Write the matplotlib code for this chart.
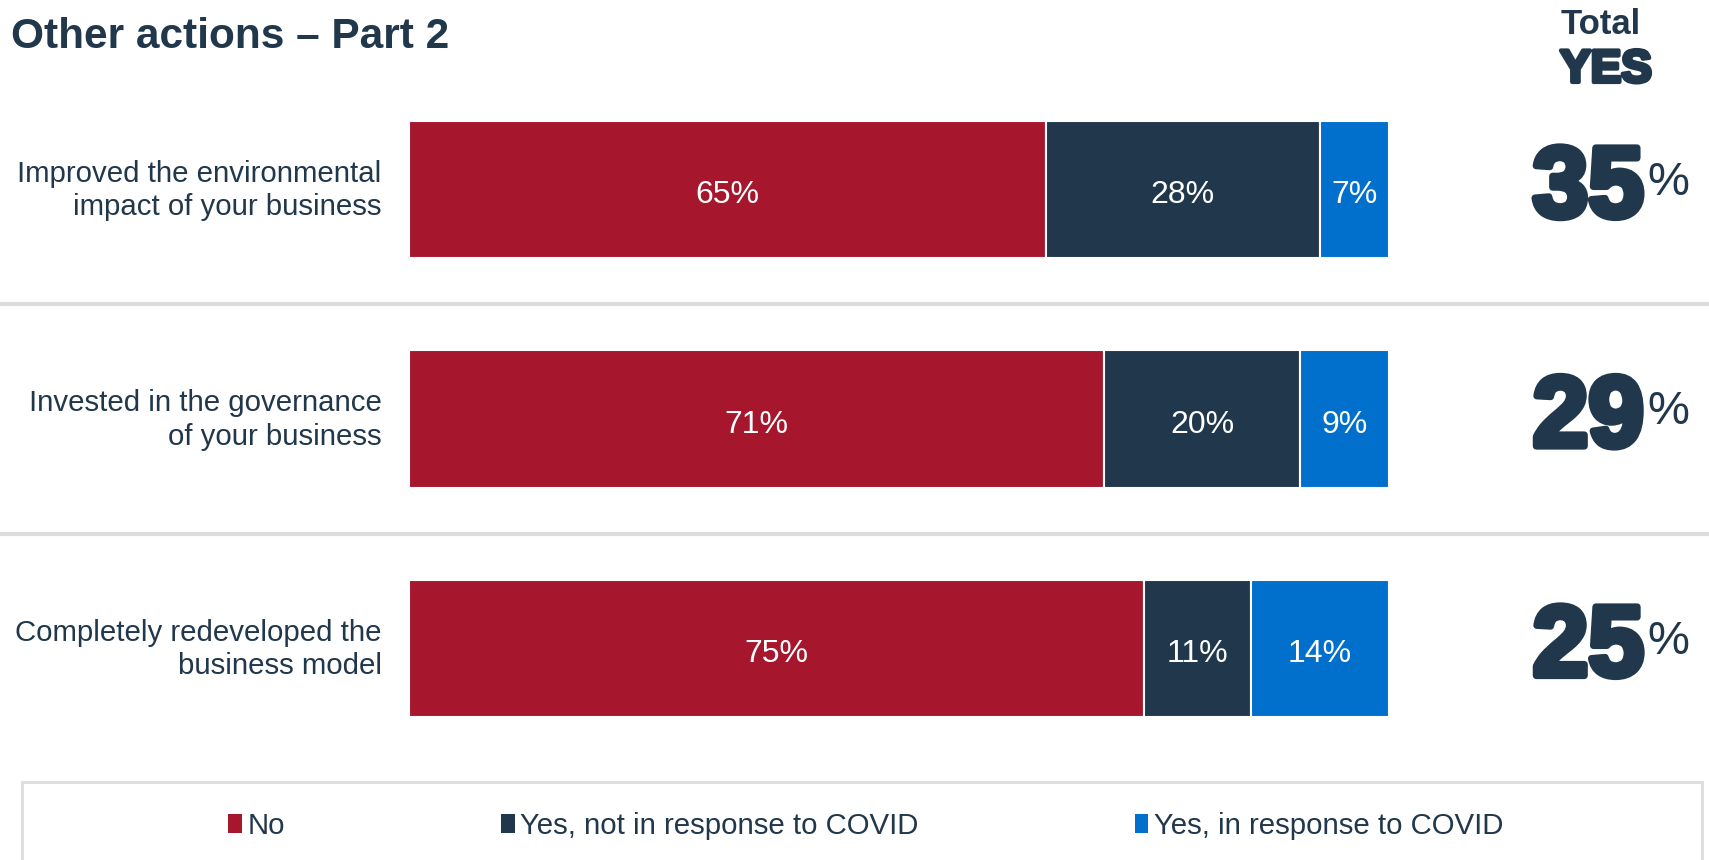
import matplotlib
matplotlib.use("Agg")
import matplotlib.pyplot as plt
from matplotlib.patches import Patch, Rectangle
from matplotlib import patheffects as pe
from matplotlib.transforms import blended_transform_factory

plt.rcParams['font.family'] = ['Liberation Sans', 'DejaVu Sans']

categories = [
    "Improved the environmental\nimpact of your business",
    "Invested in the governance\nof your business",
    "Completely redeveloped the\nbusiness model",
]
series_names = ["No", "Yes, not in response to COVID", "Yes, in response to COVID"]
no_vals = [65, 71, 75]
yes_not_covid = [28, 20, 11]
yes_covid = [7, 9, 14]

NAVY = "#21374B"
RED = "#A6172D"
BLUE = "#0070CC"
colors = [RED, NAVY, BLUE]

W, H = 1709, 860
fig = plt.figure(figsize=(W / 100, H / 100), dpi=100)

# axes region in pixels (from top-left)
ax_left, ax_right = 409, 1388.5
ax_top, ax_bottom = 74.75, 763.25
ax = fig.add_axes([ax_left / W, 1 - ax_bottom / H,
                   (ax_right - ax_left) / W, (ax_bottom - ax_top) / H])
ax.set_xlim(0, 100)
ax.set_ylim(2.5, -0.5)
ax.axis("off")

bar_h = 0.597
ypos = list(range(len(categories)))
left = [0] * len(categories)
for vals, col in zip([no_vals, yes_not_covid, yes_covid], colors):
    ax.barh(ypos, vals, left=left, height=bar_h, color=col,
            edgecolor="white", linewidth=1.5)
    for y, v, l in zip(ypos, vals, left):
        ax.text(l + v / 2, y + 0.025, f"{v}%", ha="center", va="center",
                color="white", fontsize=23)
    left = [a + b for a, b in zip(left, vals)]

# category labels
for y, cat in zip(ypos, categories):
    ax.text(-2.8, y + 0.005, cat, ha="right", va="center", color=NAVY,
            fontsize=21.2, linespacing=1.25)

# separators across the full width
for yy in [0.5, 1.5]:
    ax.axhline(yy, xmin=-0.42, xmax=1.33, color="#DCDCDC", lw=3,
               clip_on=False)

# total yes column
tr = blended_transform_factory(fig.transFigure, ax.transData)
heavy = [pe.withStroke(linewidth=5, foreground=NAVY)]
for y, a, b in zip(ypos, yes_not_covid, yes_covid):
    total = a + b
    ax.text(1644 / W, y + 0.005, f"{total}", transform=tr, ha="right",
            va="center", fontsize=72, fontweight="bold", color=NAVY,
            path_effects=heavy)
    ax.text(1647 / W, y - 0.03, "%", transform=tr, ha="left",
            va="center", fontsize=34, color=NAVY)

fig.text(1601 / W, 1 - 24 / H, "Total", ha="center", va="center",
         fontsize=25, fontweight="bold", color=NAVY)
fig.text(1606 / W, 1 - 70 / H, "YES", ha="center", va="center",
         fontsize=33, fontweight="bold", color=NAVY,
         path_effects=[pe.withStroke(linewidth=3, foreground=NAVY)])

fig.text(11 / W, 1 - 37 / H, "Other actions \u2013 Part 2", ha="left",
         va="center", fontsize=30.5, fontweight="bold", color=NAVY)

# legend frame
fig.patches.append(Rectangle((22 / W, -0.05), (1702 - 22) / W,
                             0.05 + 1 - 782 / H, transform=fig.transFigure,
                             facecolor="white", edgecolor="#DCDCDC", lw=2))
handles = [Patch(facecolor=c, edgecolor="none") for c in colors]
fig.legend(handles, series_names, loc="center", ncol=3,
           bbox_to_anchor=(866 / W, 1 - 826 / H), frameon=False,
           fontsize=21.2, handlelength=0.45, handleheight=0.6,
           handletextpad=0.2, columnspacing=7.35,
           labelcolor=NAVY)

fig.savefig("out.png", dpi=100, facecolor="white")
